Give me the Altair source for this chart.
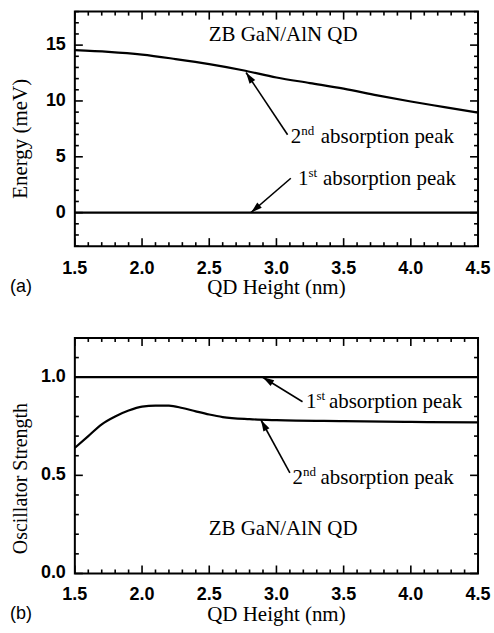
import math
import altair as alt
import pandas as pd

# ---------------- data ----------------
x_major = [1.5, 2.0, 2.5, 3.0, 3.5, 4.0, 4.5]
x_minor = [1.6, 1.7, 1.8, 1.9, 2.1, 2.2, 2.3, 2.4, 2.6, 2.7, 2.8, 2.9,
           3.1, 3.2, 3.3, 3.4, 3.6, 3.7, 3.8, 3.9, 4.1, 4.2, 4.3, 4.4]

# panel (a): energy
height_a = [1.5, 1.75, 2.0, 2.25, 2.5, 2.75, 3.0, 3.25, 3.5, 3.75, 4.0, 4.25, 4.5]
energy_peak1 = [0.0, 0.0, 0.0, 0.0, 0.0, 0.0, 0.0, 0.0, 0.0, 0.0, 0.0, 0.0, 0.0]
energy_peak2 = [14.55, 14.4, 14.15, 13.75, 13.3, 12.75, 12.1, 11.6, 11.1, 10.5, 9.95, 9.45, 8.95]
ya_major = [0, 5, 10, 15]
ya_labels = ["0", "5", "10", "15"]
ya_minor = [-3, -2, -1, 1, 2, 3, 4, 6, 7, 8, 9, 11, 12, 13, 14, 16, 17, 18]

# panel (b): oscillator strength
height_b = [1.5, 1.6, 1.7, 1.8, 1.9, 2.0, 2.1, 2.2, 2.3, 2.4, 2.5, 2.6, 2.8, 3.0, 3.5, 4.0, 4.5]
osc_peak1 = [1.0, 1.0, 1.0, 1.0, 1.0, 1.0, 1.0, 1.0, 1.0, 1.0, 1.0, 1.0, 1.0, 1.0, 1.0, 1.0, 1.0]
osc_peak2 = [0.64, 0.70, 0.76, 0.80, 0.83, 0.85, 0.855, 0.855, 0.843, 0.826, 0.81, 0.797,
             0.786, 0.781, 0.776, 0.772, 0.77]
yb_major = [0.0, 0.5, 1.0]
yb_labels = ["0.0", "0.5", "1.0"]
yb_minor = [0.1, 0.2, 0.3, 0.4, 0.6, 0.7, 0.8, 0.9, 1.1, 1.2]

x_labels = ["1.5", "2.0", "2.5", "3.0", "3.5", "4.0", "4.5"]
x_title = "QD Height (nm)"

# annotations: label start (x, baseline y), arrow start -> arrow tip
ann_a = [
    {"num": "2", "sup": "nd", "x": 3.107, "y": 6.2, "restdx": 30,
     "ax": 3.083, "ay": 6.98, "tx": 2.774, "ty": 12.55},
    {"num": "1", "sup": "st", "x": 3.16, "y": 2.5, "restdx": 25,
     "ax": 3.107, "ay": 3.08, "tx": 2.81, "ty": 0.0},
]
ann_b = [
    {"num": "1", "sup": "st", "x": 3.22, "y": 0.843, "restdx": 23,
     "ax": 3.194, "ay": 0.875, "tx": 2.898, "ty": 1.0},
    {"num": "2", "sup": "nd", "x": 3.12, "y": 0.457, "restdx": 28,
     "ax": 3.10, "ay": 0.513, "tx": 2.885, "ty": 0.782},
]
system_label = "ZB GaN/AlN QD"
sys_a = (3.05, 15.4)
sys_b = (3.05, 0.198)

# ---------------- layout / style ----------------
W = 404
SERIF = "Liberation Serif"
SANS = "Liberation Sans"
TICK_W = 1.6
MAJ = 8
MIN = 4


def panel(H, ydom, ymaj, ylabs, ymin, ytitle, ytitle_size, titleY, xlab_base,
          xs, y1, y2, anns, sysxy, tag):
    xsc = alt.Scale(domain=[1.5, 4.5], nice=False, zero=False)
    ysc = alt.Scale(domain=ydom, nice=False, zero=False)

    df1 = pd.DataFrame({"x": xs[0], "y": y1})
    df2 = pd.DataFrame({"x": xs[1], "y": y2})

    line1 = alt.Chart(df1).mark_line(color="black", strokeWidth=2.2).encode(
        x=alt.X("x:Q", scale=xsc, axis=None),
        y=alt.Y("y:Q", scale=ysc, axis=None),
    )
    line2 = alt.Chart(df2).mark_line(color="black", strokeWidth=2.2,
                                     interpolate="monotone").encode(
        x=alt.X("x:Q", scale=xsc, axis=None),
        y=alt.Y("y:Q", scale=ysc, axis=None),
    )
    layers = [line1, line2]

    # inward ticks on all four sides, placed through the scales
    for vals, L in ((x_major, MAJ), (x_minor, MIN)):
        tdf = pd.DataFrame({"v": vals})
        for y0, y1_ in ((H, H - L), (0, L)):
            layers.append(alt.Chart(tdf).mark_rule(color="black", strokeWidth=TICK_W).encode(
                x=alt.X("v:Q", scale=xsc, axis=None),
                y=alt.value(y0), y2=alt.value(y1_)))
    for vals, L in ((ymaj, MAJ), (ymin, MIN)):
        tdf = pd.DataFrame({"v": vals})
        for x0, x1_ in ((0, L), (W, W - L)):
            layers.append(alt.Chart(tdf).mark_rule(color="black", strokeWidth=TICK_W).encode(
                y=alt.Y("v:Q", scale=ysc, axis=None),
                x=alt.value(x0), x2=alt.value(x1_)))

    # tick labels (through the scales)
    xl = pd.DataFrame({"v": x_major, "t": x_labels})
    layers.append(alt.Chart(xl).mark_text(font=SANS, fontSize=18, fontWeight="bold",
                                          align="center", baseline="alphabetic",
                                          color="black").encode(
        x=alt.X("v:Q", scale=xsc, axis=None), y=alt.value(H + xlab_base), text="t:N"))
    yl = pd.DataFrame({"v": ymaj, "t": ylabs})
    layers.append(alt.Chart(yl).mark_text(font=SANS, fontSize=18, fontWeight="bold",
                                          align="right", baseline="middle",
                                          color="black").encode(
        y=alt.Y("v:Q", scale=ysc, axis=None), x=alt.value(-9), text="t:N"))

    # axis titles
    layers.append(alt.Chart(pd.DataFrame([{"t": x_title}])).mark_text(
        font=SERIF, fontSize=21, align="center", baseline="alphabetic", color="black").encode(
        x=alt.value(W / 2), y=alt.value(H + 48), text="t:N"))
    layers.append(alt.Chart(pd.DataFrame([{"t": ytitle}])).mark_text(
        font=SERIF, fontSize=ytitle_size, align="center", baseline="middle", angle=270,
        color="black").encode(
        x=alt.value(-54), y=alt.value(titleY), text="t:N"))

    # arrows (head rotation from the pixel direction of the shaft)
    pxu_x = W / 3.0
    pxu_y = H / (ydom[1] - ydom[0])
    rows = []
    for a in anns:
        dxp = (a["tx"] - a["ax"]) * pxu_x
        dyp = -(a["ty"] - a["ay"]) * pxu_y
        ang = math.degrees(math.atan2(dxp, -dyp)) % 360
        rows.append({"ax": a["ax"], "ay": a["ay"], "tx": a["tx"], "ty": a["ty"], "ang": ang})
    adf = pd.DataFrame(rows)
    layers.append(alt.Chart(adf).mark_rule(color="black", strokeWidth=1.6).encode(
        x=alt.X("ax:Q", scale=xsc, axis=None),
        y=alt.Y("ay:Q", scale=ysc, axis=None),
        x2="tx:Q", y2="ty:Q",
    ))
    layers.append(alt.Chart(adf).mark_point(
        filled=True, color="black", opacity=1, size=520,
        shape="M0,0 L-0.3,1 L0.3,1 Z").encode(
        x=alt.X("tx:Q", scale=xsc, axis=None),
        y=alt.Y("ty:Q", scale=ysc, axis=None),
        angle=alt.Angle("ang:Q", scale=None),
    ))

    for a in anns:
        d = pd.DataFrame([{"x": a["x"], "y": a["y"], "num": a["num"], "sup": a["sup"],
                           "rest": "absorption peak"}])
        base = alt.Chart(d)
        layers.append(base.mark_text(font=SERIF, fontSize=21, align="left",
                                     baseline="alphabetic", color="black").encode(
            x=alt.X("x:Q", scale=xsc, axis=None), y=alt.Y("y:Q", scale=ysc, axis=None),
            text="num:N"))
        layers.append(base.mark_text(font=SERIF, fontSize=13, align="left", dx=10.5, dy=-8,
                                     baseline="alphabetic", color="black").encode(
            x=alt.X("x:Q", scale=xsc, axis=None), y=alt.Y("y:Q", scale=ysc, axis=None),
            text="sup:N"))
        layers.append(base.mark_text(font=SERIF, fontSize=21, align="left", dx=a["restdx"],
                                     baseline="alphabetic", color="black").encode(
            x=alt.X("x:Q", scale=xsc, axis=None), y=alt.Y("y:Q", scale=ysc, axis=None),
            text="rest:N"))

    sdf = pd.DataFrame([{"x": sysxy[0], "y": sysxy[1], "t": system_label}])
    layers.append(alt.Chart(sdf).mark_text(font=SERIF, fontSize=21, align="center",
                                           baseline="alphabetic", color="black").encode(
        x=alt.X("x:Q", scale=xsc, axis=None), y=alt.Y("y:Q", scale=ysc, axis=None),
        text="t:N"))

    tagdf = pd.DataFrame([{"t": tag}])
    layers.append(alt.Chart(tagdf).mark_text(font=SANS, fontSize=18, align="center",
                                             baseline="alphabetic", color="black").encode(
        x=alt.value(-54), y=alt.value(H + 46), text="t:N"))

    return alt.layer(*layers).properties(width=W, height=H)


pa = panel(235, [-3, 18], ya_major, ya_labels, ya_minor, "Energy (meV)", 21, 127.5, 28,
           (height_a, height_a), energy_peak1, energy_peak2, ann_a, sys_a, "(a)")
pb = panel(236, [0, 1.2], yb_major, yb_labels, yb_minor, "Oscillator Strength", 20, 141, 26.5,
           (height_b, height_b), osc_peak1, osc_peak2, ann_b, sys_b, "(b)")

chart = alt.vconcat(pa, pb, spacing=37).properties(
    padding={"left": 9, "top": 9, "right": 2, "bottom": 2},
    background="white",
).configure_view(stroke="black", strokeWidth=2)

chart.save("out.html", embed_options={"renderer": "svg", "actions": False})
